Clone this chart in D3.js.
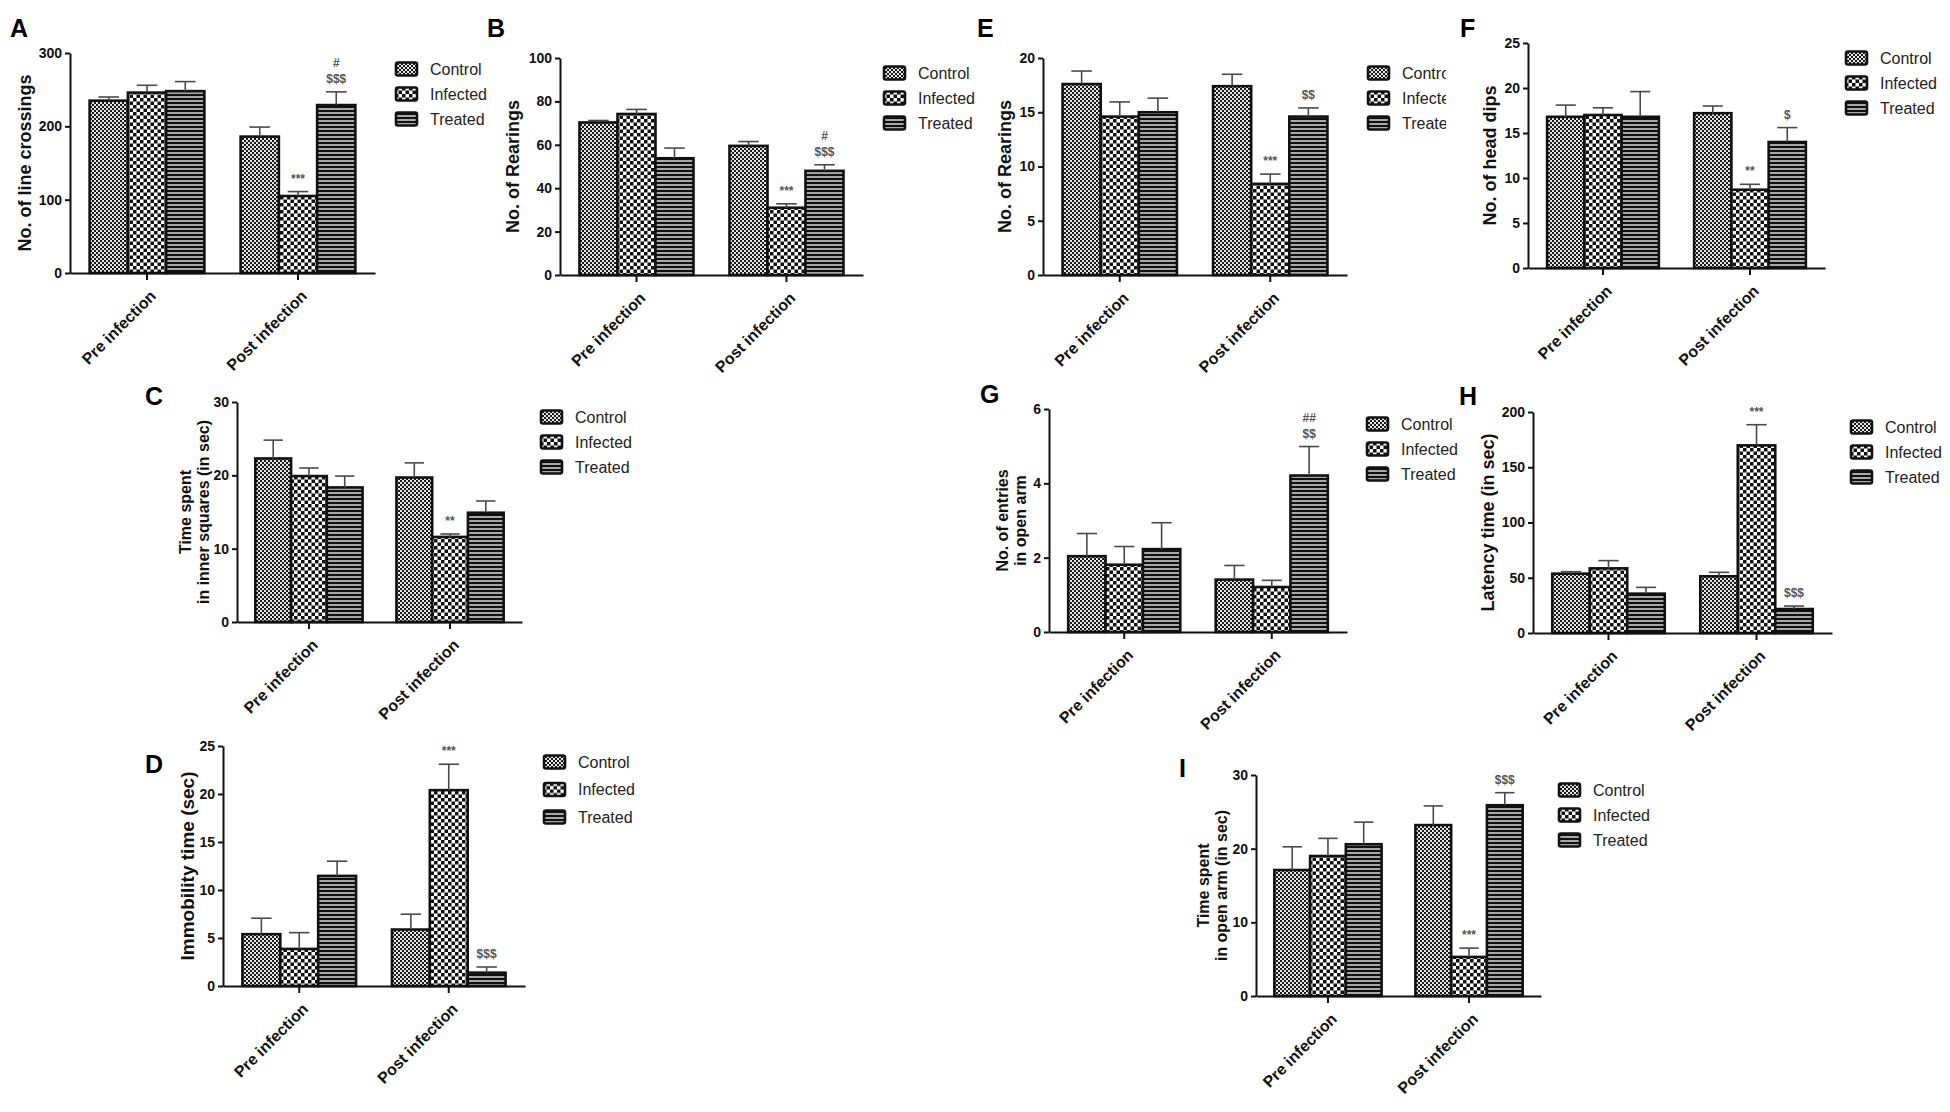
<!DOCTYPE html>
<html>
<head>
<meta charset="utf-8">
<script src="https://cdn.jsdelivr.net/npm/d3@7"></script>
<style>
  body { margin: 0; background: #fff; }
  svg { display: block; font-family: "Liberation Sans", Arial, sans-serif; }
</style>
</head>
<body>
<div id="fig"></div>
<script>
// Behavioural tests, pre vs post infection (9 panels, grouped bars + SEM)

const GROUPS = ["Pre infection", "Post infection"];
const SERIES = ["Control", "Infected", "Treated"];

// values per bar: pre Control, Infected, Treated, post Control, Infected, Treated
const A_MEAN = [235, 246, 248, 186, 105, 229];
const A_SEM  = [5, 10, 13, 13, 6, 18];
const B_MEAN = [70.3, 74.2, 53.8, 59.5, 31.0, 48.0];
const B_SEM  = [0.9, 2.1, 4.7, 2.0, 1.8, 2.8];
const C_MEAN = [22.3, 19.9, 18.35, 19.7, 11.6, 14.9];
const C_SEM  = [2.5, 1.1, 1.55, 2.0, 0.4, 1.6];
const D_MEAN = [5.4, 3.86, 11.47, 5.88, 20.4, 1.39];
const D_SEM  = [1.66, 1.7, 1.53, 1.6, 2.7, 0.59];
const E_MEAN = [17.6, 14.6, 15.0, 17.4, 8.4, 14.6];
const E_SEM  = [1.2, 1.35, 1.3, 1.1, 0.9, 0.8];
const F_MEAN = [16.8, 17.0, 16.8, 17.2, 8.7, 14.0];
const F_SEM  = [1.3, 0.8, 2.8, 0.8, 0.6, 1.6];
const G_MEAN = [2.04, 1.81, 2.23, 1.41, 1.21, 4.21];
const G_SEM  = [0.61, 0.49, 0.71, 0.38, 0.18, 0.78];
const H_MEAN = [53.7, 58.5, 35.6, 51.3, 169.8, 21.7];
const H_SEM  = [1.8, 7.0, 5.7, 3.6, 18.7, 2.7];
const I_MEAN = [17.1, 19.0, 20.6, 23.2, 5.3, 25.9];
const I_SEM  = [3.15, 2.4, 3.0, 2.6, 1.2, 1.7];

// significance marks per bar, listed bottom line first
const A_SIG = [[], [], [], [], ["***"], ["$$$", "#"]];
const B_SIG = [[], [], [], [], ["***"], ["$$$", "#"]];
const C_SIG = [[], [], [], [], ["**"], []];
const D_SIG = [[], [], [], [], ["***"], ["$$$"]];
const E_SIG = [[], [], [], [], ["***"], ["$$"]];
const F_SIG = [[], [], [], [], ["**"], ["$"]];
const G_SIG = [[], [], [], [], [], ["$$", "##"]];
const H_SIG = [[], [], [], [], ["***"], ["$$$"]];
const I_SIG = [[], [], [], [], ["***"], ["$$$"]];

// y ticks
const A_TICKS = [0, 100, 200, 300];
const B_TICKS = [0, 20, 40, 60, 80, 100];
const C_TICKS = [0, 10, 20, 30];
const D_TICKS = [0, 5, 10, 15, 20, 25];
const E_TICKS = [0, 5, 10, 15, 20];
const F_TICKS = [0, 5, 10, 15, 20, 25];
const G_TICKS = [0, 2, 4, 6];
const H_TICKS = [0, 50, 100, 150, 200];
const I_TICKS = [0, 10, 20, 30];

/* ── Panel layout (pixel frame of each plot) ── */
const PANELS = [
  { id: "A", mean: A_MEAN, sem: A_SEM, sig: A_SIG, ticks: A_TICKS, title: ["No. of line crossings"],
    letter: [10, 37], ax: 70, ar: 375, top: 53, bot: 273, tx: -45, tsize: 18, legend: [395, 69] },
  { id: "B", mean: B_MEAN, sem: B_SEM, sig: B_SIG, ticks: B_TICKS, title: ["No. of Rearings"],
    letter: [487, 37], ax: 560, ar: 863, top: 58, bot: 275, tx: -47, tsize: 18, legend: [883, 73] },
  { id: "E", mean: E_MEAN, sem: E_SEM, sig: E_SIG, ticks: E_TICKS, title: ["No. of Rearings"],
    letter: [977, 37], ax: 1043, ar: 1347, top: 58, bot: 275, tx: -38, tsize: 18, legend: [1367, 73], clipX: 1446 },
  { id: "F", mean: F_MEAN, sem: F_SEM, sig: F_SIG, ticks: F_TICKS, title: ["No. of head dips"],
    letter: [1460, 37], ax: 1528, ar: 1825, top: 43, bot: 268, tx: -38, tsize: 18, legend: [1845, 58] },
  { id: "C", mean: C_MEAN, sem: C_SEM, sig: C_SIG, ticks: C_TICKS, title: ["Time spent", "in inner squares (in sec)"],
    letter: [145, 405], ax: 237, ar: 522, top: 402, bot: 622, tx: -52, tsize: 16, legend: [540, 417] },
  { id: "D", mean: D_MEAN, sem: D_SEM, sig: D_SIG, ticks: D_TICKS, title: ["Immobility time (sec)"],
    letter: [145, 773], ax: 223, ar: 525, top: 746, bot: 986, tx: -36, tsize: 19, legend: [543, 762], rowH: 27.5 },
  { id: "G", mean: G_MEAN, sem: G_SEM, sig: G_SIG, ticks: G_TICKS, title: ["No. of entries", "in open arm"],
    letter: [980, 403], ax: 1049, ar: 1347, top: 409, bot: 632, tx: -47, tsize: 16, legend: [1366, 424] },
  { id: "H", mean: H_MEAN, sem: H_SEM, sig: H_SIG, ticks: H_TICKS, title: ["Latency time (in sec)"],
    letter: [1459, 405], ax: 1533, ar: 1832, top: 412, bot: 633, tx: -45, tsize: 18, legend: [1850, 427] },
  { id: "I", mean: I_MEAN, sem: I_SEM, sig: I_SIG, ticks: I_TICKS, title: ["Time spent", "in open arm (in sec)"],
    letter: [1179, 777], ax: 1256, ar: 1541, top: 775, bot: 996, tx: -53, tsize: 16, legend: [1558, 790] },
];

const svg = d3.select("#fig").append("svg")
  .attr("width", 1950).attr("height", 1112);
svg.append("rect").attr("width", 1950).attr("height", 1112).attr("fill", "#fff");

/* ── Fill patterns ── */
const defs = svg.append("defs");
const pControl = defs.append("pattern").attr("id", "p-control")
  .attr("patternUnits", "userSpaceOnUse").attr("width", 4).attr("height", 4);
pControl.append("rect").attr("width", 4).attr("height", 4).attr("fill", "#e6e6e6");
pControl.append("rect").attr("width", 2).attr("height", 2).attr("fill", "#1a1a1a");
pControl.append("rect").attr("x", 2).attr("y", 2).attr("width", 2).attr("height", 2).attr("fill", "#1a1a1a");

const pInf = defs.append("pattern").attr("id", "p-infected")
  .attr("patternUnits", "userSpaceOnUse").attr("width", 7).attr("height", 7);
pInf.append("rect").attr("width", 7).attr("height", 7).attr("fill", "#fff");
pInf.append("rect").attr("width", 3.5).attr("height", 3.5).attr("fill", "#111");
pInf.append("rect").attr("x", 3.5).attr("y", 3.5).attr("width", 3.5).attr("height", 3.5).attr("fill", "#111");

const pTr = defs.append("pattern").attr("id", "p-treated")
  .attr("patternUnits", "userSpaceOnUse").attr("width", 4).attr("height", 4);
pTr.append("rect").attr("width", 4).attr("height", 4).attr("fill", "#a8a8a8");
pTr.append("rect").attr("y", 2).attr("width", 4).attr("height", 2).attr("fill", "#111");

const FILLS = ["url(#p-control)", "url(#p-infected)", "url(#p-treated)"];

/* ── Draw each panel ── */
PANELS.forEach(p => {
  const g = svg.append("g").attr("class", "panel-" + p.id);

  const x0 = d3.scaleBand().domain(GROUPS).range([p.ax, p.ar])
    .paddingInner(0.24).paddingOuter(0.13);
  const x1 = d3.scaleBand().domain(SERIES).range([0, x0.bandwidth()]);
  const y = d3.scaleLinear().domain([0, d3.max(p.ticks)]).range([p.bot, p.top]);

  const bars = p.mean.map((m, i) => ({
    group: GROUPS[Math.floor(i / 3)], series: SERIES[i % 3], si: i % 3,
    mean: m, sem: p.sem[i], sig: p.sig[i]
  }));
  const bx = d => x0(d.group) + x1(d.series);

  // bars
  g.selectAll("rect.bar").data(bars).join("rect").attr("class", "bar")
    .attr("x", bx).attr("y", d => y(d.mean))
    .attr("width", x1.bandwidth()).attr("height", d => y(0) - y(d.mean))
    .attr("fill", d => FILLS[d.si])
    .attr("stroke", "#111").attr("stroke-width", 2.6);

  // error bars (upper only)
  const cap = x1.bandwidth() * 0.27;
  const eb = g.selectAll("g.err").data(bars).join("g").attr("class", "err")
    .attr("stroke", "#4a4a4a").attr("stroke-width", 1.6);
  eb.append("line")
    .attr("x1", d => bx(d) + x1.bandwidth() / 2).attr("x2", d => bx(d) + x1.bandwidth() / 2)
    .attr("y1", d => y(d.mean)).attr("y2", d => y(d.mean + d.sem));
  eb.append("line")
    .attr("x1", d => bx(d) + x1.bandwidth() / 2 - cap).attr("x2", d => bx(d) + x1.bandwidth() / 2 + cap)
    .attr("y1", d => y(d.mean + d.sem)).attr("y2", d => y(d.mean + d.sem));

  // significance marks
  bars.forEach(d => {
    d.sig.forEach((s, k) => {
      g.append("text")
        .attr("x", bx(d) + x1.bandwidth() / 2)
        .attr("y", y(d.mean + d.sem) - 9 - k * 16)
        .attr("text-anchor", "middle").attr("font-size", 12).attr("font-weight", "bold")
        .attr("fill", "#555").text(s);
    });
  });

  // y axis
  g.append("g").attr("transform", `translate(${p.ax},0)`)
    .call(d3.axisLeft(y).tickValues(p.ticks).tickFormat(d3.format("d"))
      .tickSize(5).tickSizeOuter(0).tickPadding(3))
    .call(ax => ax.select(".domain").attr("stroke", "#111").attr("stroke-width", 2))
    .call(ax => ax.selectAll(".tick line").attr("stroke", "#111").attr("stroke-width", 2))
    .selectAll("text").attr("font-size", 14).attr("font-weight", "bold")
    .attr("fill", "#111").attr("font-family", null);

  // x axis
  g.append("g").attr("transform", `translate(0,${p.bot})`)
    .call(d3.axisBottom(x0).tickSize(7).tickSizeOuter(0))
    .call(ax => ax.select(".domain").attr("stroke", "#111").attr("stroke-width", 2.2))
    .call(ax => ax.selectAll(".tick line").attr("stroke", "#111").attr("stroke-width", 2))
    .selectAll("text")
    .attr("font-size", 16).attr("font-weight", "bold").attr("fill", "#111").attr("font-family", null)
    .attr("text-anchor", "end").attr("y", 0).attr("dy", 0)
    .attr("transform", "translate(10,24) rotate(-45)");

  // axis title
  const midY = (p.top + p.bot) / 2;
  p.title.forEach((t, k) => {
    g.append("text")
      .attr("transform", `translate(${p.ax + p.tx + k * (p.tsize + 2)},${midY}) rotate(-90)`)
      .attr("text-anchor", "middle").attr("dy", "0.36em")
      .attr("font-size", p.tsize).attr("font-weight", "bold").attr("fill", "#111")
      .text(t);
  });

  // panel letter
  g.append("text").attr("x", p.letter[0]).attr("y", p.letter[1])
    .attr("font-size", 25).attr("font-weight", "bold").attr("fill", "#000").text(p.id);

  // legend
  const lg = g.append("g").attr("transform", `translate(${p.legend[0]},${p.legend[1]})`);
  if (p.clipX) {
    defs.append("clipPath").attr("id", "clip-" + p.id)
      .append("rect").attr("x", -50).attr("y", -30).attr("width", p.clipX - p.legend[0] + 50).attr("height", 120);
    lg.attr("clip-path", `url(#clip-${p.id})`);
  }
  const rowH = p.rowH || 25;
  SERIES.forEach((s, i) => {
    const row = lg.append("g").attr("transform", `translate(0,${i * rowH})`);
    row.append("rect").attr("x", 1).attr("y", -6.5).attr("width", 21).attr("height", 13).attr("rx", 2)
      .attr("fill", FILLS[i]).attr("stroke", "#111").attr("stroke-width", 2.6);
    row.append("text").attr("x", 35).attr("y", 0).attr("dy", "0.36em")
      .attr("font-size", 16).attr("fill", "#222").text(s);
  });
});
</script>
</body>
</html>
